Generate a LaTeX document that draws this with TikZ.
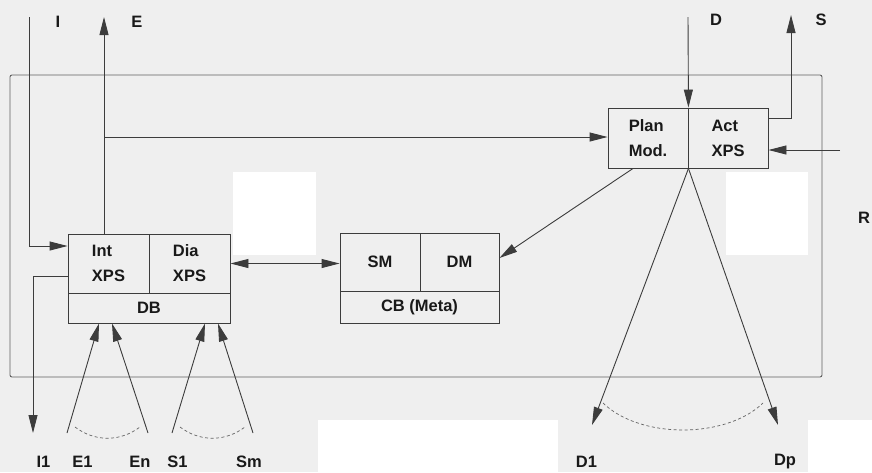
\documentclass[tikz,border=0pt]{standalone}
\usepackage{fontspec}
\setmainfont{Liberation Sans}
\usetikzlibrary{arrows.meta,calc}
\definecolor{bgcol}{RGB}{239,239,239}
\definecolor{linec}{RGB}{60,60,60}
\definecolor{framec}{RGB}{95,95,95}
\definecolor{textc}{RGB}{25,25,25}
\newcommand\dgfont{\fontsize{16.5}{25}\selectfont\bfseries}
\tikzset{
  tip/.tip={Triangle[length=18pt,width=9pt]},
  conn/.style={draw=linec,line width=0.9pt},
  arr/.style={conn,-{tip}},
  cell/.style={draw=linec,line width=0.9pt,inner sep=0pt,align=left,
    font=\dgfont,text=textc},
  framebox/.style={draw=framec,line width=0.9pt,rounded corners=2pt,inner sep=0pt},
  lbl/.style={font=\dgfont,text=textc,inner sep=0pt},
  sweep/.style={draw=linec!80,line width=0.7pt,dash pattern=on 3pt off 2.5pt},
  patch/.style={fill=white,draw=none}
}
\begin{document}
\begin{tikzpicture}[x=1pt,y=-1pt]
% page and paper patches
\fill[bgcol] (0,0) rectangle (872,472);
\useasboundingbox (0,0) rectangle (872,472);
\fill[patch] (233,172) rectangle (316,255);
\fill[patch] (726,172) rectangle (808,255);
\fill[patch] (318,420) rectangle (558,472);
\fill[patch] (808,420) rectangle (872,472);

% system boundary
\node[framebox,minimum width=812pt,minimum height=302pt] (system) at (416,226) {};

% left unit: interaction / dialogue expert systems over the database
\node[cell,minimum width=81pt,minimum height=59pt] (intxps) at (108.5,263.5) {Int\\XPS};
\node[cell,minimum width=81pt,minimum height=59pt] (diaxps) at (189.5,263.5) {Dia\\XPS};
\node[cell,minimum width=162pt,minimum height=30pt] (db) at (149,308) {DB};

% middle unit: SM / DM over the meta knowledge base
\node[cell,minimum width=80pt,minimum height=58pt] (sm) at (380,262) {SM};
\node[cell,minimum width=79pt,minimum height=58pt] (dm) at (459.5,262) {DM};
\node[cell,minimum width=159pt,minimum height=32pt] (cb) at (419.5,307) {CB (Meta)};

% right unit: planning module and action expert system
\node[cell,minimum width=80pt,minimum height=60pt] (plan) at (648,138) {Plan\\Mod.};
\node[cell,minimum width=80pt,minimum height=60pt] (act) at (728,138) {Act\\XPS};

% free ends of the connectors
\coordinate (Itop) at (29,17);
\coordinate (I1end) at (33,433);
\coordinate (Etop) at (104,17);
\coordinate (Ebr) at (104,137);
\coordinate (E1s) at (67,433);
\coordinate (Ens) at (148,433);
\coordinate (S1s) at (172,433);
\coordinate (Sms) at (253,433);
\coordinate (Dtop) at (688,17);
\coordinate (Stop) at (791,15);
\coordinate (Rin) at (840,150);
\coordinate (D1end) at (592,425);
\coordinate (Dpend) at (778,425);

% connectors
\draw[arr] (Itop) |- ([yshift=17.5pt]intxps.west);
\draw[arr] ([yshift=-12.5pt]intxps.west) -| (I1end);
\draw[arr] (Etop |- intxps.north) -- (Etop);
\draw[arr] (Ebr) -- (Ebr -| plan.west);
\draw[conn,{tip}-{tip}] (diaxps.east) -- (diaxps.east -| sm.west);
\draw[arr] (E1s) -- ([xshift=-50pt]db.south);
\draw[arr] (Ens) -- ([xshift=-37pt]db.south);
\draw[arr] (S1s) -- ([xshift=56pt]db.south);
\draw[arr] (Sms) -- ([xshift=69pt]db.south);
\draw[arr] (Dtop) -- (plan.north east);
\draw[arr] ([yshift=20pt]act.east) -| (Stop);
\draw[arr] (Rin) -- (Rin -| act.east);
\draw[arr] ([xshift=-15pt]plan.south) -- ([yshift=4pt]dm.east);
\draw[arr] (plan.south east) -- (D1end);
\draw[arr] (plan.south east) -- (Dpend);

% fan-out sweeps
\draw[sweep] (75,427) .. controls (95,442) and (120,442) .. (140,427);
\draw[sweep] (180,427) .. controls (200,442) and (225,442) .. (245,427);
\draw[sweep] (603,403) .. controls (640,439) and (726,439) .. (763,403);

% labels
\node[lbl] (lI) at (58,22) {I};
\node[lbl] (lE) at (137,22) {E};
\node[lbl] (lD) at (716,20) {D};
\node[lbl] (lS) at (821,20) {S};
\node[lbl] (lR) at (864,218) {R};
\node[lbl] (lI1) at (43.5,462) {I1};
\node[lbl] (lE1) at (82.5,462) {E1};
\node[lbl] (lEn) at (140,462) {En};
\node[lbl] (lS1) at (177.5,462) {S1};
\node[lbl] (lSm) at (249,462) {Sm};
\node[lbl] (lD1) at (586.5,462) {D1};
\node[lbl] (lDp) at (785,462) {Dp};
\end{tikzpicture}
\end{document}
